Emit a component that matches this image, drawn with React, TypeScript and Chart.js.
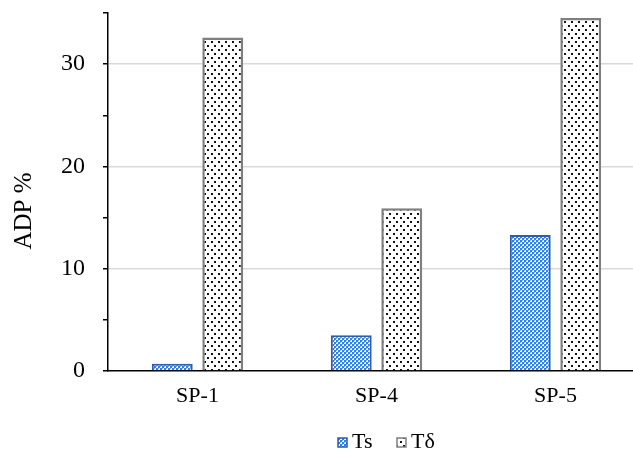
import React, { useEffect, useRef } from "react";
import { Chart, registerables } from "chart.js";
Chart.register(...registerables);

const categories = ["SP-1", "SP-4", "SP-5"];
const seriesNames = ["Ts", "Tδ"];
const tsValues = [0.7, 3.5, 13.3];
const tdValues = [32.6, 15.9, 34.5];
const yMax = 35;
const yStep = 5;
const yLabelStep = 10;
const yTitle = "ADP %";

const FONT = "'Liberation Serif', 'Times New Roman', serif";

function makeTsPattern(ctx: CanvasRenderingContext2D) {
  const c = document.createElement("canvas");
  c.width = 4;
  c.height = 4;
  const g = c.getContext("2d")!;
  g.fillStyle = "#ffffff";
  g.fillRect(0, 0, 4, 4);
  g.fillStyle = "#3a7fd4";
  g.fillRect(0, 0, 2, 2);
  g.fillRect(2, 2, 2, 2);
  g.fillStyle = "#7fb0e8";
  g.fillRect(2, 0, 1, 1);
  g.fillRect(0, 2, 1, 1);
  return ctx.createPattern(c, "repeat")!;
}

function makeTdPattern(ctx: CanvasRenderingContext2D) {
  const c = document.createElement("canvas");
  c.width = 7;
  c.height = 8;
  const g = c.getContext("2d")!;
  g.fillStyle = "#ffffff";
  g.fillRect(0, 0, 7, 8);
  g.fillStyle = "#111111";
  g.fillRect(1, 1, 2, 2);
  g.fillRect(4, 5, 2, 2);
  return ctx.createPattern(c, "repeat")!;
}

export default function App() {
  const ref = useRef<HTMLCanvasElement>(null);
  useEffect(() => {
    let chart: Chart | null = null;
    let cancelled = false;
    const build = () => {
      if (cancelled) return;
      const canvas = ref.current!;
      const ctx = canvas.getContext("2d")!;
      const tsPat = makeTsPattern(ctx);
      const tdPat = makeTdPattern(ctx);
      const tsBorder = "#2f5ea8";
      const tdBorder = "#7f7f7f";

      const overlay = {
        id: "overlay",
        afterDraw(ch: any) {
          const c = ch.ctx as CanvasRenderingContext2D;
          c.save();
          c.fillStyle = "#000";
          c.font = `25px ${FONT}`;
          c.textAlign = "center";
          c.textBaseline = "middle";
          c.translate(24, 211);
          c.rotate(-Math.PI / 2);
          c.fillText(yTitle, 0, 0);
          c.restore();
          c.save();
          c.font = `22px ${FONT}`;
          c.textBaseline = "alphabetic";
          c.textAlign = "left";
          const items = [
            { x: 338, pat: tsPat, border: tsBorder, label: seriesNames[0] },
            { x: 397, pat: tdPat, border: tdBorder, label: seriesNames[1] },
          ];
          for (const it of items) {
            c.fillStyle = it.pat;
            c.fillRect(it.x, 438, 9, 9);
            c.strokeStyle = it.border;
            c.lineWidth = 1.5;
            c.strokeRect(it.x, 438, 9, 9);
            c.fillStyle = "#000";
            c.fillText(it.label, it.x + 14, 448);
          }
          c.restore();
        },
      };

      chart = new Chart(canvas, {
        type: "bar",
        data: {
          labels: categories,
          datasets: [
            {
              label: seriesNames[0],
              data: tsValues,
              backgroundColor: tsPat as any,
              borderColor: tsBorder,
              borderWidth: 2,
              barPercentage: 0.81,
              categoryPercentage: 0.564,
            },
            {
              label: seriesNames[1],
              data: tdValues,
              backgroundColor: tdPat as any,
              borderColor: tdBorder,
              borderWidth: 2.5,
              barPercentage: 0.81,
              categoryPercentage: 0.564,
            },
          ],
        },
        options: {
          animation: false,
          responsive: false,
          layout: { padding: { left: 0, right: 15, top: 13, bottom: 0 } },
          plugins: { legend: { display: false }, tooltip: { enabled: false } },
          scales: {
            x: {
              grid: { display: false, drawTicks: false },
              border: { display: true, color: "#000", width: 1.5 },
              ticks: {
                color: "#000",
                font: { family: FONT, size: 22 },
                padding: 12,
              },
              afterFit: (s: any) => {
                s.height = 84;
                s.paddingLeft = 0;
                s.paddingRight = 0;
              },
            },
            y: {
              min: 0,
              max: yMax,
              grid: {
                color: (c: any) => {
                  const v = c.tick ? c.tick.value : 0;
                  return v > 0 && v % yLabelStep === 0 && v < yMax ? "#d9d9d9" : "rgba(0,0,0,0)";
                },
                lineWidth: 1.5,
                tickColor: "#000",
                tickLength: 5,
                drawTicks: true,
              },
              border: { display: true, color: "#000", width: 1.5 },
              ticks: {
                stepSize: yStep,
                color: "#000",
                font: { family: FONT, size: 24 },
                padding: 18,
                callback: (v: any) => (Number(v) % yLabelStep === 0 ? String(v) : ""),
              },
              afterFit: (s: any) => {
                s.width = 108;
                s.paddingTop = 0;
                s.paddingBottom = 0;
              },
            },
          },
        },
        plugins: [overlay],
      });
    };
    const fonts: any = (document as any).fonts;
    if (fonts && fonts.load) {
      Promise.all([
        fonts.load(`22px "Liberation Serif"`),
        fonts.load(`22px "Liberation Serif"`, "Tδ"),
      ]).then(build, build);
    } else {
      build();
    }
    return () => {
      cancelled = true;
      if (chart) chart.destroy();
    };
  }, []);

  return (
    <div style={{ position: "absolute", left: 0, top: 0, width: 633, height: 455, overflow: "hidden", background: "#fff" }}>
      <canvas ref={ref} width={660} height={455} style={{ width: 660, height: 455, display: "block" }} />
    </div>
  );
}
